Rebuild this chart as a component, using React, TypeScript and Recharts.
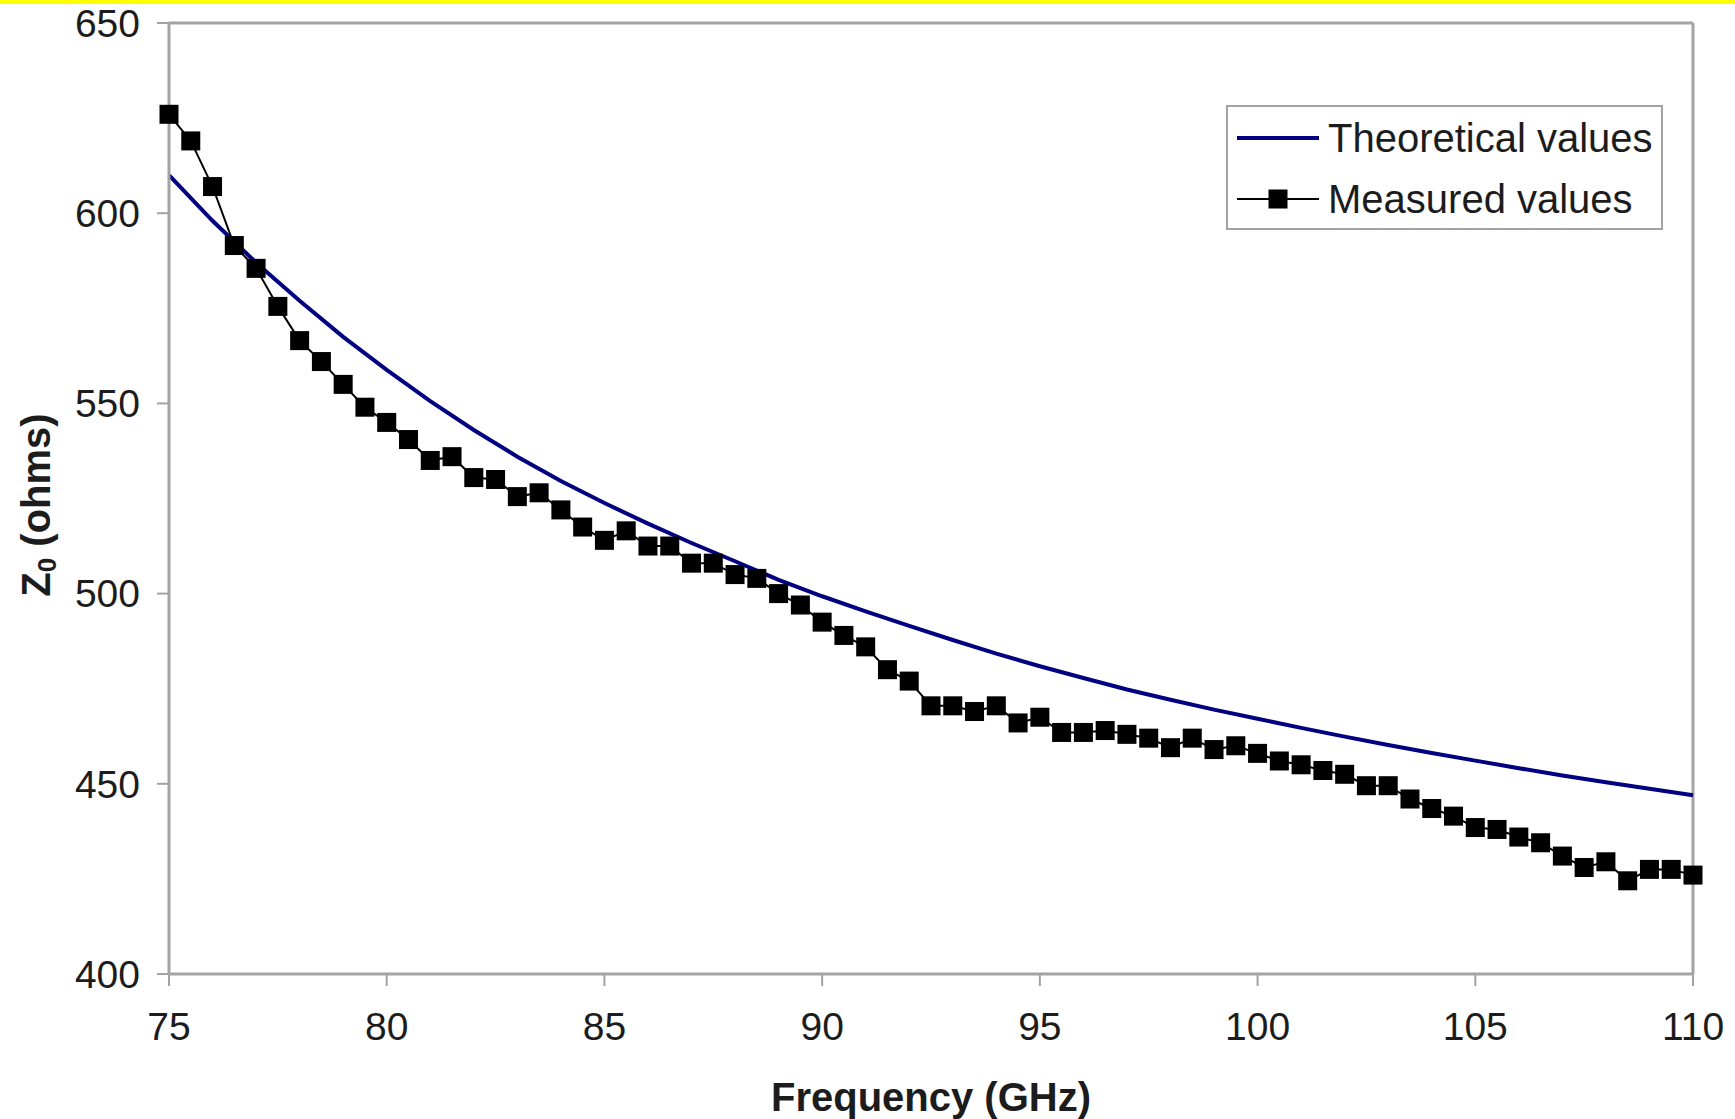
import { LineChart, Line, XAxis, YAxis, ReferenceLine } from "recharts";

const font = '"Liberation Sans", Arial, sans-serif';
const axisGray = "#a3a3a3";
const textColor = "#1c1c1c";
const theoryColor = "#000080";

// Theoretical curve, read every 1 GHz
const theoryFreq = [
  75, 76, 77, 78, 79, 80, 81, 82, 83, 84, 85, 86, 87, 88, 89, 90, 91, 92,
  93, 94, 95, 96, 97, 98, 99, 100, 101, 102, 103, 104, 105, 106, 107, 108,
  109, 110,
];
const theoryZ = [
  610, 598, 587, 577, 567.5, 558.8, 550.6, 543, 536, 529.6, 523.8, 518.4,
  513.3, 508.5, 503.6, 499.3, 495.3, 491.5, 487.8, 484.2, 480.9, 477.8,
  474.8, 472.1, 469.5, 467.1, 464.7, 462.4, 460.2, 458.1, 456.1, 454.1,
  452.2, 450.4, 448.7, 447,
];

// Measured points, every 0.5 GHz
const measuredFreq = [
  75, 75.5, 76, 76.5, 77, 77.5, 78, 78.5, 79, 79.5, 80, 80.5, 81, 81.5, 82,
  82.5, 83, 83.5, 84, 84.5, 85, 85.5, 86, 86.5, 87, 87.5, 88, 88.5, 89, 89.5,
  90, 90.5, 91, 91.5, 92, 92.5, 93, 93.5, 94, 94.5, 95, 95.5, 96, 96.5, 97,
  97.5, 98, 98.5, 99, 99.5, 100, 100.5, 101, 101.5, 102, 102.5, 103, 103.5,
  104, 104.5, 105, 105.5, 106, 106.5, 107, 107.5, 108, 108.5, 109, 109.5, 110,
];
const measuredZ = [
  626, 619, 607, 591.5, 585.5, 575.5, 566.5, 561, 555, 549,
  545, 540.5, 535, 536, 530.5, 530, 525.5, 526.5, 522, 517.5,
  514, 516.5, 512.5, 512.5, 508, 508, 505, 504, 500, 497,
  492.5, 489, 486, 480, 477, 470.5, 470.5, 469, 470.5, 466,
  467.5, 463.5, 463.5, 464, 463, 462, 459.5, 462, 459, 460,
  458, 456, 455, 453.5, 452.5, 449.5, 449.5, 446, 443.5, 441.5,
  438.5, 438, 436, 434.5, 431, 428, 429.5, 424.5, 427.5, 427.5,
  426,
];

const xTicks = [75, 80, 85, 90, 95, 100, 105, 110];
const yTicks = [400, 450, 500, 550, 600, 650];

const theoryData = theoryFreq.map((f, i) => ({ f, z: theoryZ[i] }));
const measuredData = measuredFreq.map((f, i) => ({ f, z: measuredZ[i] }));

const tickStyle = { fill: textColor, fontSize: 39, fontFamily: font };

function YTitle() {
  return (
    <text
      x={50}
      y={505}
      transform="rotate(-90 50 505)"
      textAnchor="middle"
      fontFamily={font}
      fontWeight="bold"
      fontSize={40}
      fill={textColor}
    >
      Z<tspan fontSize={26} dy={6}>0</tspan>
      <tspan dy={-6}> (ohms)</tspan>
    </text>
  );
}

function SquareDot(props: any) {
  const { cx, cy, index } = props;
  if (cx == null || cy == null) return <g key={`m-${index}`} />;
  return <rect key={`m-${index}`} x={cx - 9.5} y={cy - 9.5} width={19} height={19} fill="#000" />;
}

function LegendBox() {
  return (
    <div
      style={{
        position: "absolute",
        left: 1226,
        top: 105,
        width: 437,
        height: 125,
        border: `2px solid ${axisGray}`,
        boxSizing: "border-box",
        background: "#fff",
        fontFamily: font,
        fontSize: 40,
        color: textColor,
      }}
    >
      <svg width={100} height={125} style={{ position: "absolute", left: 0, top: 0 }}>
        <line x1={9} x2={91} y1={31} y2={31} stroke={theoryColor} strokeWidth={4} />
        <line x1={9} x2={91} y1={92} y2={92} stroke="#000" strokeWidth={2} />
        <rect x={40.5} y={82.5} width={19} height={19} fill="#000" />
      </svg>
      <div style={{ position: "absolute", left: 100, top: 8, lineHeight: "46px", whiteSpace: "nowrap" }}>
        Theoretical values
      </div>
      <div style={{ position: "absolute", left: 100, top: 69, lineHeight: "46px", whiteSpace: "nowrap" }}>
        Measured values
      </div>
    </div>
  );
}

export default function App() {
  return (
    <div
      style={{
        position: "absolute",
        left: 0,
        top: 0,
        width: 1735,
        height: 1119,
        background: "#fff",
        overflow: "hidden",
      }}
    >
      <div style={{ position: "absolute", left: 0, top: 0, width: 1735, height: 4, background: "#ffff00" }} />
      <LineChart
        width={1735}
        height={1119}
        margin={{ top: 23, right: 42, left: 0, bottom: 0 }}
      >
        <XAxis
          type="number"
          dataKey="f"
          domain={[75, 110]}
          ticks={xTicks}
          height={145}
          tick={tickStyle}
          tickSize={12}
          tickMargin={26}
          axisLine={{ stroke: axisGray, strokeWidth: 3 }}
          tickLine={{ stroke: axisGray, strokeWidth: 2 }}
          label={{
            value: "Frequency (GHz)",
            position: "insideBottom",
            offset: 8,
            fill: textColor,
            fontSize: 40,
            fontWeight: "bold",
            fontFamily: font,
          }}
        />
        <YAxis
          type="number"
          dataKey="z"
          domain={[400, 650]}
          ticks={yTicks}
          width={169}
          tick={tickStyle}
          tickSize={12}
          tickMargin={17}
          axisLine={{ stroke: axisGray, strokeWidth: 3 }}
          tickLine={{ stroke: axisGray, strokeWidth: 2 }}
          label={<YTitle />}
        />
        <ReferenceLine y={650} stroke={axisGray} strokeWidth={3} />
        <ReferenceLine x={110} stroke={axisGray} strokeWidth={3} />
        <Line
          data={theoryData}
          dataKey="z"
          type="linear"
          stroke={theoryColor}
          strokeWidth={4}
          dot={false}
          activeDot={false}
          isAnimationActive={false}
        />
        <Line
          data={measuredData}
          dataKey="z"
          type="linear"
          stroke="#000"
          strokeWidth={2}
          dot={SquareDot}
          activeDot={false}
          isAnimationActive={false}
        />
      </LineChart>
      <LegendBox />
    </div>
  );
}
